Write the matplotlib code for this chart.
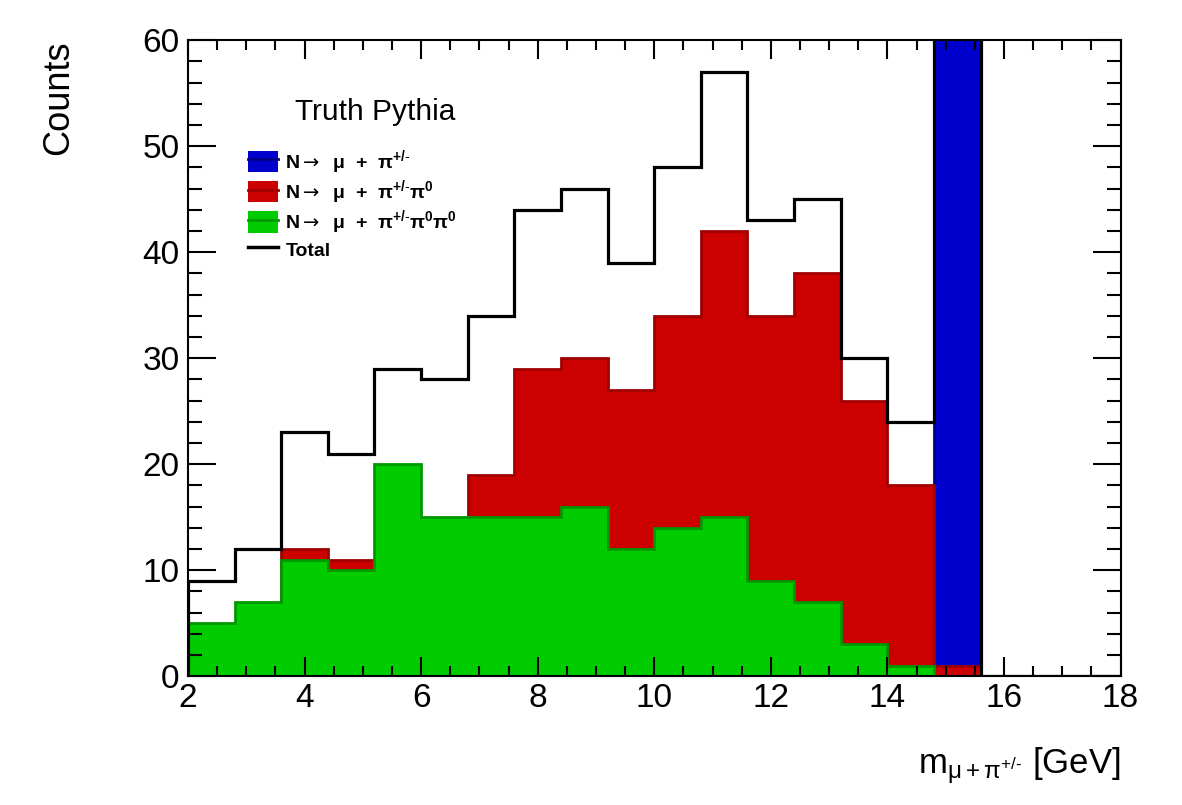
import numpy as np
import matplotlib.pyplot as plt
from matplotlib.patches import Patch
from matplotlib.lines import Line2D
from matplotlib.ticker import MultipleLocator

plt.rcParams['font.family'] = ['Liberation Sans', 'DejaVu Sans']
plt.rcParams['mathtext.fontset'] = 'custom'
plt.rcParams['mathtext.rm'] = 'Liberation Sans'
plt.rcParams['mathtext.it'] = 'Liberation Sans'
plt.rcParams['mathtext.bf'] = 'Liberation Sans:bold'
plt.rcParams['mathtext.sf'] = 'DejaVu Sans'
plt.rcParams['mathtext.default'] = 'regular'

# bin edges: 20 bins of 0.8 GeV from 2 to 18
edges = np.linspace(2, 18, 21)

# counts per bin
pi_only = [0, 0, 0, 0, 0, 0, 0, 0, 0, 0, 0, 0, 0, 0, 0, 5, 150, 0, 0, 0]
pi_pi0 = [4, 5, 12, 11, 9, 13, 19, 29, 30, 27, 34, 42, 34, 38, 26, 18, 1, 0, 0, 0]
pi_pi0pi0 = [5, 7, 11, 10, 20, 15, 15, 15, 16, 12, 14, 15, 9, 7, 3, 1, 0, 0, 0, 0]
total = [9, 12, 23, 21, 29, 28, 34, 44, 46, 39, 48, 57, 43, 45, 30, 24, 151, 0, 0, 0]

pm = r"{+/\text{-}}"
arrow = r"$\mathsf{\rightarrow}$"
labels = ["N" + arrow + "  $\\mu$  +  $\\pi^" + pm + "$",
          "N" + arrow + "  $\\mu$  +  $\\pi^" + pm + "\\pi^{0}$",
          "N" + arrow + "  $\\mu$  +  $\\pi^" + pm + "\\pi^{0}\\pi^{0}$",
          "Total"]

fig = plt.figure(figsize=(11.82, 8.05), dpi=100)
ax = fig.add_axes([0.159, 0.160, 0.789, 0.790])

ax.stairs(pi_only, edges, fill=True, facecolor='#0000cc', edgecolor='#000080', linewidth=2)
ax.stairs(pi_pi0, edges, fill=True, facecolor='#cc0000', edgecolor='#a00000', linewidth=2)
ax.stairs(pi_pi0pi0, edges, fill=True, facecolor='#00cc00', edgecolor='#009900', linewidth=2)
ax.stairs(total, edges, color='black', linewidth=2.3)

ax.set_xlim(2, 18)
ax.set_ylim(0, 60)
ax.xaxis.set_major_locator(MultipleLocator(2))
ax.xaxis.set_minor_locator(MultipleLocator(0.5))
ax.yaxis.set_major_locator(MultipleLocator(10))
ax.yaxis.set_minor_locator(MultipleLocator(2))
ax.tick_params(which='both', direction='in', top=True, right=True, width=1.5, labelsize=24)
ax.tick_params(axis='x', which='major', length=14, pad=5)
ax.tick_params(axis='x', which='minor', length=7)
ax.tick_params(axis='y', which='major', length=20, pad=6)
ax.tick_params(axis='y', which='minor', length=10)
for s in ax.spines.values():
    s.set_linewidth(1.5)
    s.set_zorder(5)

ax.set_ylabel("Counts", fontsize=26, loc='top', labelpad=48)
ax.set_xlabel(r"m$_{\mu+\pi^{+/\text{-}}}$ [GeV]", fontsize=25, loc='right', labelpad=22)

ax.text(0.115, 0.887, "Truth Pythia", transform=ax.transAxes, fontsize=21.5, ha='left', va='center')

handles = [
    (Patch(facecolor='#0000cc'), Line2D([], [], color='#000080', lw=2)),
    (Patch(facecolor='#cc0000'), Line2D([], [], color='#a00000', lw=2)),
    (Patch(facecolor='#00cc00'), Line2D([], [], color='#009900', lw=2)),
    Line2D([], [], color='black', lw=2.5),
]
leg = ax.legend(handles, labels, loc='upper left', bbox_to_anchor=(0.046, 0.858),
                frameon=False, prop={'weight': 'bold', 'size': 14},
                handlelength=1.55, handleheight=1.3, handletextpad=0.35, labelspacing=0.12)

fig.savefig("out.png", dpi=100)
